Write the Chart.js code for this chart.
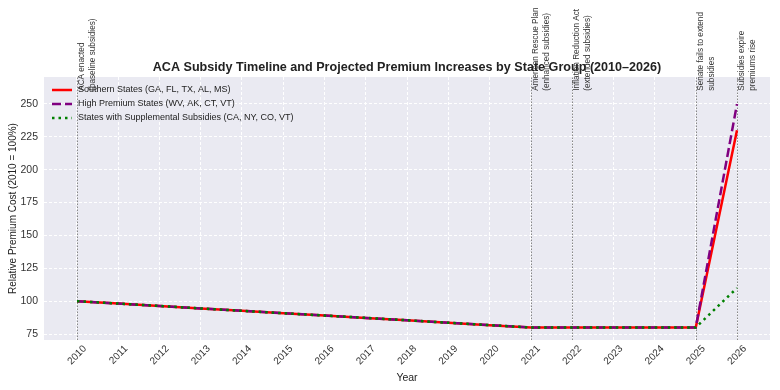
<!DOCTYPE html>
<html>
<head>
<meta charset="utf-8">
<script src="https://cdn.jsdelivr.net/npm/chart.js@4"></script>
<style>
  html, body { margin: 0; padding: 0; background: #fff; }
  #wrap { width: 780px; height: 390px; }
</style>
</head>
<body>
<div id="wrap"><canvas id="premiumChart" width="780" height="390"></canvas></div>
<script>
const years = [2010, 2011, 2012, 2013, 2014, 2015, 2016, 2017, 2018, 2019, 2020, 2021, 2022, 2023, 2024, 2025, 2026];
const southernValues = [100, 98.2, 96.4, 94.5, 92.7, 90.9, 89.1, 87.3, 85.5, 83.6, 81.8, 80, 80, 80, 80, 80, 230];
const highPremiumValues = [100, 98.2, 96.4, 94.5, 92.7, 90.9, 89.1, 87.3, 85.5, 83.6, 81.8, 80, 80, 80, 80, 80, 250];
const supplementalValues = [100, 98.2, 96.4, 94.5, 92.7, 90.9, 89.1, 87.3, 85.5, 83.6, 81.8, 80, 80, 80, 80, 80, 110];
const yTicks = [75, 100, 125, 150, 175, 200, 225, 250];
const seriesLabels = [
  'Southern States (GA, FL, TX, AL, MS)',
  'High Premium States (WV, AK, CT, VT)',
  'States with Supplemental Subsidies (CA, NY, CO, VT)'
];
const eventYears = [2010, 2021, 2022, 2025, 2026];
const eventLabels = [
  ['ACA enacted', '(baseline subsidies)'],
  ['American Rescue Plan', '(enhanced subsidies)'],
  ['Inflation Reduction Act', '(extended subsidies)'],
  ['Senate fails to extend', 'subsidies'],
  ['Subsidies expire', 'premiums rise']
];

const FONT = '"Liberation Sans", Arial, sans-serif';
const colors = ['#ff0000', '#800080', '#008000'];
const dashes = [[], [9, 4], [2.5, 4]];

function toPoints(values) {
  return years.map((y, i) => ({ x: y, y: values[i] }));
}

// background, event lines, labels, legend and title
const decorPlugin = {
  id: 'decor',
  beforeDraw(chart) {
    const { ctx, chartArea: a } = chart;
    ctx.save();
    ctx.fillStyle = '#eaeaf2';
    ctx.fillRect(a.left, a.top, a.right - a.left, a.bottom - a.top);
    ctx.restore();
  },
  beforeDatasetsDraw(chart) {
    const { ctx, chartArea: a } = chart;
    const xs = chart.scales.x;
    ctx.save();
    ctx.strokeStyle = '#888';
    ctx.lineWidth = 1;
    ctx.setLineDash([1.5, 1.5]);
    eventYears.forEach(yr => {
      const px = Math.round(xs.getPixelForValue(yr)) + 0.5;
      ctx.beginPath();
      ctx.moveTo(px, a.bottom);
      ctx.lineTo(px, a.top);
      ctx.stroke();
    });
    ctx.restore();
  },
  afterDraw(chart) {
    const { ctx, chartArea: a } = chart;
    const xs = chart.scales.x;
    const ys = chart.scales.y;

    // rotated event labels
    ctx.save();
    ctx.font = '8.2px ' + FONT;
    ctx.fillStyle = '#333';
    ctx.textAlign = 'left';
    ctx.textBaseline = 'top';
    eventYears.forEach((yr, i) => {
      const px = xs.getPixelForValue(yr);
      const py = ys.getPixelForValue(260);
      ctx.save();
      ctx.translate(px + 1, py);
      ctx.rotate(-Math.PI / 2);
      eventLabels[i].forEach((line, j) => {
        ctx.fillText(line, 0, j * 10.5);
      });
      ctx.restore();
    });
    ctx.restore();

    // legend inside the plot
    ctx.save();
    ctx.font = '9px ' + FONT;
    ctx.textBaseline = 'middle';
    ctx.lineWidth = 2.5;
    seriesLabels.forEach((lbl, i) => {
      const y = a.top + 13 + i * 14;
      ctx.strokeStyle = colors[i];
      ctx.setLineDash(dashes[i]);
      ctx.beginPath();
      ctx.moveTo(52, y);
      ctx.lineTo(72, y);
      ctx.stroke();
      ctx.setLineDash([]);
      ctx.fillStyle = '#222';
      ctx.fillText(lbl, 78, y);
    });
    ctx.restore();

    // title
    ctx.save();
    ctx.font = 'bold 12.6px ' + FONT;
    ctx.fillStyle = '#222';
    ctx.textAlign = 'center';
    ctx.textBaseline = 'middle';
    ctx.fillText('ACA Subsidy Timeline and Projected Premium Increases by State Group (2010\u20132026)', (a.left + a.right) / 2, 68);
    ctx.restore();
  }
};

const ctx = document.getElementById('premiumChart').getContext('2d');
new Chart(ctx, {
  type: 'line',
  data: {
    datasets: [
      {
        label: seriesLabels[0],
        data: toPoints(southernValues),
        borderColor: colors[0],
        borderWidth: 2.5,
        pointRadius: 0,
        order: 2
      },
      {
        label: seriesLabels[1],
        data: toPoints(highPremiumValues),
        borderColor: colors[1],
        borderWidth: 2.5,
        borderDash: dashes[1],
        pointRadius: 0,
        order: 1
      },
      {
        label: seriesLabels[2],
        data: toPoints(supplementalValues),
        borderColor: colors[2],
        borderWidth: 2.5,
        borderDash: dashes[2],
        pointRadius: 0,
        order: 0
      }
    ]
  },
  options: {
    responsive: false,
    animation: false,
    layout: { padding: { left: 0, right: 10, top: 77, bottom: 0 } },
    plugins: {
      legend: { display: false },
      tooltip: { enabled: false }
    },
    scales: {
      x: {
        type: 'linear',
        min: 2009.2,
        max: 2026.8,
        afterBuildTicks: s => { s.ticks = years.map(v => ({ value: v })); },
        afterFit: s => { s.height = 50; },
        ticks: {
          font: { family: FONT, size: 10 },
          color: '#333',
          maxRotation: 45,
          minRotation: 45,
          padding: 3,
          labelOffset: 8,
          callback: v => String(v)
        },
        grid: { color: '#ffffff', lineWidth: 1, drawTicks: false },
        border: { display: false, dash: [3, 2] },
        title: {
          display: true,
          text: 'Year',
          font: { family: FONT, size: 10.5 },
          color: '#222',
          padding: { top: 0, bottom: 6 }
        }
      },
      y: {
        type: 'linear',
        min: 70.5,
        max: 270.5,
        afterBuildTicks: s => { s.ticks = yTicks.map(v => ({ value: v })); },
        afterFit: s => { s.width = 44; },
        ticks: {
          font: { family: FONT, size: 10.5 },
          color: '#333',
          padding: 6,
          callback: v => String(v)
        },
        grid: { color: '#ffffff', lineWidth: 1, drawTicks: false },
        border: { display: false, dash: [3, 2] },
        title: {
          display: true,
          text: 'Relative Premium Cost (2010 = 100%)',
          font: { family: FONT, size: 10 },
          color: '#222',
          padding: { top: 7, bottom: 2 }
        }
      }
    }
  },
  plugins: [decorPlugin]
});
</script>
</body>
</html>
